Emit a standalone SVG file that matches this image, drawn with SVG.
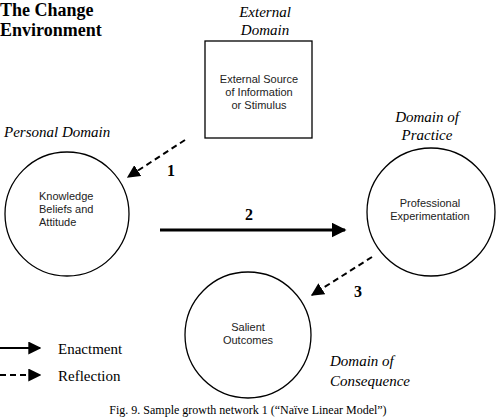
<svg xmlns="http://www.w3.org/2000/svg" width="500" height="417" viewBox="0 0 500 417">
<defs>
<style>
.node{fill:#fff;stroke:#000;stroke-width:1.3}
.nt{font-family:"Liberation Sans",Arial,sans-serif;font-size:11px;fill:#222}
.dom{font-family:"Liberation Serif","Times New Roman",serif;font-style:italic;font-size:15px;fill:#000}
.num{font-family:"Liberation Serif","Times New Roman",serif;font-weight:bold;font-size:16px;fill:#000}
.leg{font-family:"Liberation Serif","Times New Roman",serif;font-size:15px;fill:#000}
.ttl{font-family:"Liberation Serif","Times New Roman",serif;font-weight:bold;font-size:18px;fill:#000}
.dash{stroke:#000;stroke-width:2;stroke-dasharray:6,4;fill:none}
.solid{stroke:#000;stroke-width:3;fill:none}
</style>
<marker id="ah" viewBox="0 0 10 10" refX="9" refY="5" markerWidth="13" markerHeight="13" markerUnits="userSpaceOnUse" orient="auto">
<path d="M0,0 L10,5 L0,10 z" fill="#000"/>
</marker>
<marker id="ahs" viewBox="0 0 10 10" refX="9" refY="5" markerWidth="5" markerHeight="5" orient="auto">
<path d="M0,0 L10,5 L0,10 z" fill="#000"/>
</marker>
</defs>
<rect width="500" height="417" fill="#fff"/>
<g id="title">
<text class="ttl" x="0" y="16">The Change</text>
<text class="ttl" x="0" y="36">Environment</text>
</g>
<g id="external">
<text class="dom" x="265" y="17" text-anchor="middle">External</text>
<text class="dom" x="265" y="35" text-anchor="middle">Domain</text>
<rect class="node" x="205" y="41" width="107" height="97"/>
<text class="nt" x="259" y="83" text-anchor="middle">External Source</text>
<text class="nt" x="259" y="96" text-anchor="middle">of Information</text>
<text class="nt" x="259" y="109" text-anchor="middle">or Stimulus</text>
</g>
<g id="personal">
<text class="dom" x="4" y="137">Personal Domain</text>
<circle class="node" cx="67" cy="214" r="62"/>
<text class="nt" x="39" y="200">Knowledge</text>
<text class="nt" x="39" y="213">Beliefs and</text>
<text class="nt" x="39" y="226">Attitude</text>
</g>
<g id="practice">
<text class="dom" x="427" y="122" text-anchor="middle">Domain of</text>
<text class="dom" x="427" y="140" text-anchor="middle">Practice</text>
<circle class="node" cx="431" cy="212" r="64"/>
<text class="nt" x="430" y="207" text-anchor="middle">Professional</text>
<text class="nt" x="430" y="220" text-anchor="middle">Experimentation</text>
</g>
<g id="consequence">
<circle class="node" cx="248" cy="335" r="63"/>
<text class="nt" x="248" y="331" text-anchor="middle">Salient</text>
<text class="nt" x="248" y="344" text-anchor="middle">Outcomes</text>
<text class="dom" x="330" y="366">Domain of</text>
<text class="dom" x="330" y="386">Consequence</text>
</g>
<g id="connectors">
<line class="dash" x1="185" y1="140" x2="128" y2="177" marker-end="url(#ah)"/>
<text class="num" x="167" y="176">1</text>
<line class="solid" x1="160" y1="230" x2="345" y2="230" marker-end="url(#ahs)"/>
<text class="num" x="245" y="220">2</text>
<line class="dash" x1="372" y1="257" x2="312" y2="295" marker-end="url(#ah)"/>
<text class="num" x="354" y="297">3</text>
</g>
<g id="legend">
<line x1="0" y1="348" x2="40" y2="348" stroke="#000" stroke-width="2" marker-end="url(#ah)"/>
<text class="leg" x="58" y="354">Enactment</text>
<line x1="0" y1="375" x2="40" y2="375" stroke="#000" stroke-width="2" stroke-dasharray="6,4" marker-end="url(#ah)"/>
<text class="leg" x="58" y="381">Reflection</text>
</g>
<text x="248" y="414" text-anchor="middle" font-family="'Liberation Serif','Times New Roman',serif" font-size="12">Fig. 9.  Sample growth network 1 (“Naïve Linear Model”)</text>
</svg>
